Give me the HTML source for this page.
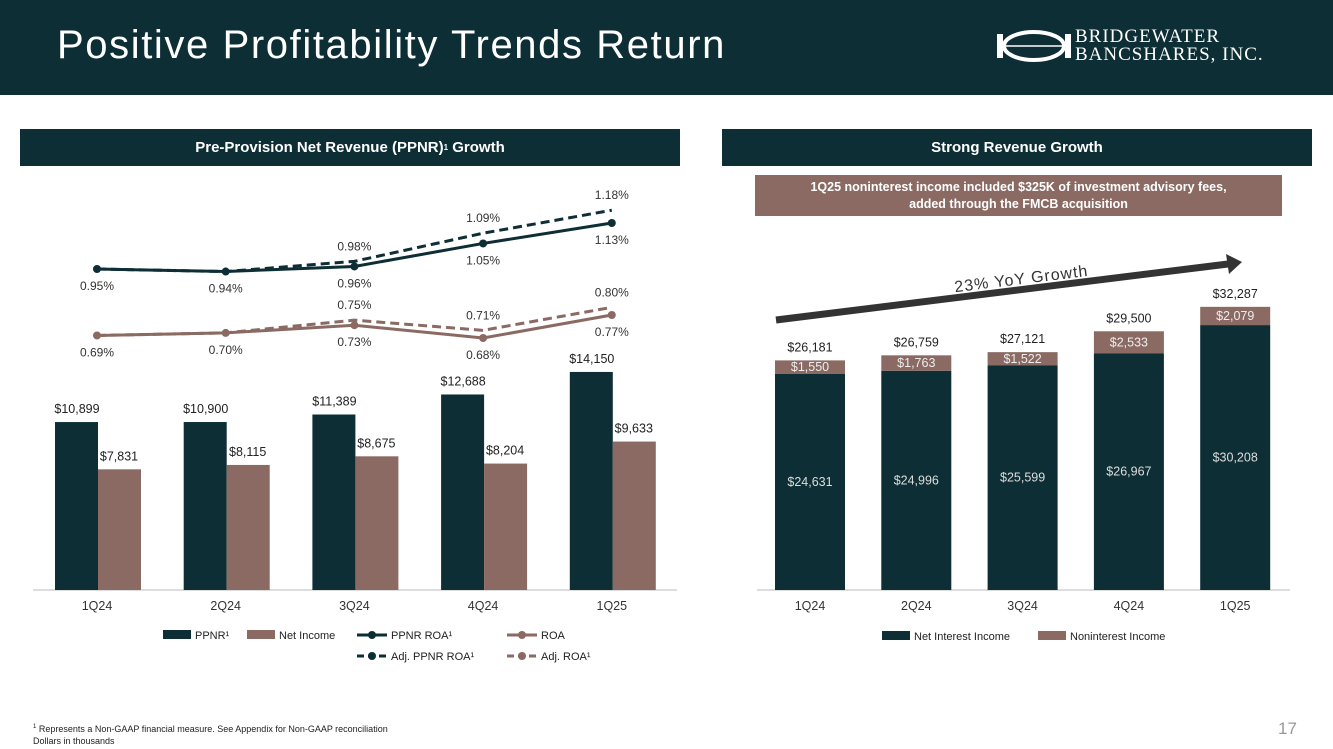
<!DOCTYPE html>
<html><head><meta charset="utf-8"><style>
body{margin:0;width:1333px;height:749px;overflow:hidden;background:#fff;font-family:"Liberation Sans",sans-serif;position:relative}
.hdr{position:absolute;left:0;top:0;width:1333px;height:95px;background:#0d2e35}
.title{position:absolute;left:57px;top:23px;color:#fff;font-size:40px;letter-spacing:1.6px;white-space:nowrap}
.sec{position:absolute;height:37px;background:#0d2e35;color:#fff;font-weight:bold;font-size:15px;display:flex;align-items:center;justify-content:center}
.note{position:absolute;left:755px;top:175px;width:527px;height:41px;background:#8a6a63;color:#fff;font-weight:bold;font-size:12.5px;text-align:center;line-height:17px;padding-top:4px;box-sizing:border-box}
svg{position:absolute;left:0;top:0}
</style></head><body>
<div class="hdr"></div>
<div class="title">Positive Profitability Trends Return</div>
<div style="position:absolute;left:995px;top:26px;color:#fff;font-family:'Liberation Serif',serif;font-size:19px;line-height:18px;letter-spacing:1px">
<svg width="80" height="40" style="position:absolute;left:0;top:0" viewBox="0 0 80 40"><rect x="2" y="8" width="6" height="24" fill="#fff"/><rect x="70" y="8" width="6" height="24" fill="#fff"/><ellipse cx="39" cy="20" rx="30" ry="14" fill="none" stroke="#fff" stroke-width="4"/><line x1="8" y1="20" x2="70" y2="20" stroke="#fff" stroke-width="1.5"/></svg>
<div style="position:absolute;left:80px;top:2px;white-space:nowrap">BRIDGEWATER<br>BANCSHARES, INC.</div></div>
<div class="sec" style="left:20px;top:129px;width:660px">Pre-Provision Net Revenue (PPNR)<sup style="font-size:8px">1</sup>&nbsp;Growth</div>
<div class="sec" style="left:722px;top:129px;width:590px">Strong Revenue Growth</div>
<div class="note">1Q25 noninterest income included $325K of investment advisory fees,<br>added through the FMCB acquisition</div>
<svg id="c" width="1333" height="749"></svg>
<div style="position:absolute;left:33px;top:721px;font-size:9px;line-height:12px;color:#222"><sup style="font-size:6px">1</sup> Represents a Non-GAAP financial measure. See Appendix for Non-GAAP reconciliation<br>Dollars in thousands</div>
<div style="position:absolute;left:1278px;top:719px;font-size:17px;color:#999">17</div>
<script>
const cats=["1Q24","2Q24","3Q24","4Q24","1Q25"];
const ppnr=[10899,10900,11389,12688,14150];
const netIncome=[7831,8115,8675,8204,9633];
const ppnrRoa=[0.95,0.94,0.96,1.05,1.13];
const adjPpnrRoa=[0.95,0.94,0.98,1.09,1.18];
const roa=[0.69,0.70,0.73,0.68,0.77];
const adjRoa=[0.69,0.70,0.75,0.71,0.80];
const nii=[24631,24996,25599,26967,30208];
const nonint=[1550,1763,1522,2533,2079];
const D="#0d2e35",B="#8a6a63",NS="http://www.w3.org/2000/svg";
const svg=document.getElementById('c');
function el(t,a,txt){const e=document.createElementNS(NS,t);for(const k in a)e.setAttribute(k,a[k]);if(txt!=null)e.textContent=txt;svg.appendChild(e);return e;}
const fmt=v=>"$"+v.toLocaleString("en-US");
const base=590;
const lx=i=>97+i*128.7, ly=v=>v*0.01541, ry=v=>269-(v-0.95)*255.6;
let e=el('line',{x1:33,x2:677,y1:base,y2:base,stroke:"#bbb"});

cats.forEach((c,i)=>{
 let h=ly(ppnr[i]);
 e=el('rect',{x:lx(i)-42,y:base-h,width:43,height:h,fill:D});
 
 el('text',{x:lx(i)-20,y:base-h-9,"text-anchor":"middle","font-size":12.5,fill:"#222"},fmt(ppnr[i]));
 h=ly(netIncome[i]);
 e=el('rect',{x:lx(i)+1,y:base-h,width:43,height:h,fill:B});
 
 el('text',{x:lx(i)+22,y:base-h-9,"text-anchor":"middle","font-size":12.5,fill:"#222"},fmt(netIncome[i]));
 e=el('text',{x:lx(i),y:610,"text-anchor":"middle","font-size":12.5,fill:"#333"},c);
 
});
function line(arr,col,dash,name){
 const pts=arr.map((v,i)=>lx(i)+","+ry(v)).join(" ");
 e=el('polyline',{points:pts,fill:"none",stroke:col,"stroke-width":3,"stroke-dasharray":dash?"9,5":"none"});
 
 arr.forEach((v,i)=>{
  if(!dash){e=el('circle',{cx:lx(i),cy:ry(v),r:4,fill:col});}
 });
}
line(adjPpnrRoa,D,true,'adj-ppnr-roa-line');line(ppnrRoa,D,false,'ppnr-roa-line');
line(adjRoa,B,true,'adj-roa-line');line(roa,B,false,'roa-line');
function labels(act,adj){
 act.forEach((v,i)=>{
  const same=Math.abs(act[i]-adj[i])<1e-9;
  el('text',{x:lx(i),y:ry(v)+21,"text-anchor":"middle","font-size":12,fill:"#333"},v.toFixed(2)+"%");
  if(!same) el('text',{x:lx(i),y:ry(adj[i])-11,"text-anchor":"middle","font-size":12,fill:"#333"},adj[i].toFixed(2)+"%");
 });
}
labels(ppnrRoa,adjPpnrRoa);labels(roa,adjRoa);
function legRect(x,y,col,t){el('rect',{x:x,y:y-5,width:28,height:9,fill:col});el('text',{x:x+32,y:y+4,"font-size":11,fill:"#222"},t);}
function legLine(x,y,col,dash,t){el('line',{x1:x,x2:x+30,y1:y,y2:y,stroke:col,"stroke-width":3,"stroke-dasharray":dash?"7,4":"none"});el('circle',{cx:x+15,cy:y,r:4,fill:col});el('text',{x:x+34,y:y+4,"font-size":11,fill:"#222"},t);}
legRect(163,635,D,"PPNR¹");legRect(247,635,B,"Net Income");
legLine(357,635,D,false,"PPNR ROA¹");legLine(507,635,B,false,"ROA");
legLine(357,656,D,true,"Adj. PPNR ROA¹");legLine(507,656,B,true,"Adj. ROA¹");
const rx=i=>810+i*106.3, rs=v=>v*0.00877;
e=el('line',{x1:757,x2:1290,y1:base,y2:base,stroke:"#bbb"});

cats.forEach((c,i)=>{
 const h1=rs(nii[i]),h2=rs(nonint[i]);
 e=el('rect',{x:rx(i)-35,y:base-h1,width:70,height:h1,fill:D});
 
 el('text',{x:rx(i),y:base-h1/2+4,"text-anchor":"middle","font-size":12.5,fill:"#ddd"},fmt(nii[i]));
 e=el('rect',{x:rx(i)-35,y:base-h1-h2,width:70,height:h2,fill:B});
 
 el('text',{x:rx(i),y:base-h1-h2/2+4,"text-anchor":"middle","font-size":12.5,fill:"#eee"},fmt(nonint[i]));
 el('text',{x:rx(i),y:base-h1-h2-9,"text-anchor":"middle","font-size":12.5,fill:"#222"},fmt(nii[i]+nonint[i]));
 el('text',{x:rx(i),y:610,"text-anchor":"middle","font-size":12.5,fill:"#333"},c);
});
legRect(882,636,D,"Net Interest Income");legRect(1038,636,B,"Noninterest Income");
e=el('line',{x1:776,y1:320,x2:1228,y2:264,stroke:"#333","stroke-width":7});

el('polygon',{points:"1242,262 1226,254 1229,274",fill:"#333"});
e=el('text',{x:1022,y:284,"text-anchor":"middle","font-size":16,fill:"#333",transform:"rotate(-7 1022 284)","letter-spacing":"1"},"23% YoY Growth");

</script>
</body></html>
